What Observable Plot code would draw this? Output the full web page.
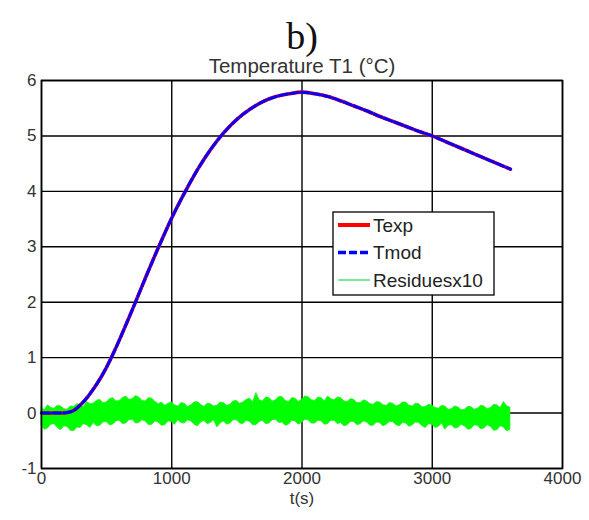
<!DOCTYPE html>
<html>
<head>
<meta charset="utf-8">
<script src="https://cdn.jsdelivr.net/npm/d3@7"></script>
<script src="https://cdn.jsdelivr.net/npm/@observablehq/plot@0.6"></script>
<style>
  html, body { margin: 0; padding: 0; background: #fff; }
  #chart { width: 589px; height: 520px; }
</style>
</head>
<body>
<div id="chart"></div>
<script>
// ---- data ----
const panelLabel = "b)";
const chartTitle = "Temperature T1 (°C)";
const xLabel = "t(s)";
const seriesNames = ["Texp", "Tmod", "Residuesx10"];
const xTicks = [0, 1000, 2000, 3000, 4000];
const yTicks = [-1, 0, 1, 2, 3, 4, 5, 6];

const time = [0, 100, 200, 250, 300, 350, 400, 450, 500, 550, 600, 700, 800, 900, 1000, 1100, 1200,
  1300, 1400, 1500, 1600, 1700, 1800, 1900, 2000, 2100, 2200, 2300, 2400, 2500, 2600, 2700, 2800,
  2900, 3000, 3100, 3200, 3300, 3400, 3500, 3600];
const texp = [0, 0, 0.01, 0.05, 0.15, 0.28, 0.44, 0.62, 0.83, 1.07, 1.33, 1.88, 2.45, 3.0, 3.52, 3.98,
  4.4, 4.76, 5.06, 5.3, 5.48, 5.62, 5.71, 5.76, 5.79, 5.76, 5.71, 5.63, 5.54, 5.45, 5.35, 5.26,
  5.17, 5.08, 5.0, 4.9, 4.8, 4.7, 4.6, 4.5, 4.4];
const tmod = [0, 0, 0.01, 0.05, 0.15, 0.28, 0.44, 0.62, 0.83, 1.07, 1.33, 1.88, 2.45, 3.0, 3.52, 3.98,
  4.4, 4.76, 5.06, 5.3, 5.48, 5.62, 5.71, 5.76, 5.79, 5.76, 5.71, 5.63, 5.54, 5.45, 5.35, 5.26,
  5.17, 5.08, 5.0, 4.9, 4.8, 4.7, 4.6, 4.5, 4.4];

const resTime = [0, 25, 50, 75, 100, 125, 150, 175, 200, 225, 250, 275, 300, 325, 350, 375, 400,
  425, 450, 475, 500, 525, 550, 575, 600, 625, 650, 675, 700, 725, 750, 775, 800, 825, 850, 875,
  900, 925, 950, 975, 1000, 1025, 1050, 1075, 1100, 1125, 1150, 1175, 1200, 1225, 1250, 1275, 1300,
  1325, 1350, 1375, 1400, 1425, 1450, 1475, 1500, 1525, 1550, 1575, 1600, 1625, 1650, 1675, 1700,
  1725, 1750, 1775, 1800, 1825, 1850, 1875, 1900, 1925, 1950, 1975, 2000, 2025, 2050, 2075, 2100,
  2125, 2150, 2175, 2200, 2225, 2250, 2275, 2300, 2325, 2350, 2375, 2400, 2425, 2450, 2475, 2500,
  2525, 2550, 2575, 2600, 2625, 2650, 2675, 2700, 2725, 2750, 2775, 2800, 2825, 2850, 2875, 2900,
  2925, 2950, 2975, 3000, 3025, 3050, 3075, 3100, 3125, 3150, 3175, 3200, 3225, 3250, 3275, 3300,
  3325, 3350, 3375, 3400, 3425, 3450, 3475, 3500, 3525, 3550, 3575, 3600];
const resHi = [0.10, 0.05, 0.14, 0.09, 0.08, 0.13, 0.12, 0.07, 0.06, 0.12, 0.11, 0.16, 0.15, 0.11,
  0.20, 0.16, 0.17, 0.22, 0.24, 0.18, 0.19, 0.25, 0.27, 0.21, 0.22, 0.27, 0.30, 0.24, 0.25, 0.31,
  0.28, 0.22, 0.21, 0.27, 0.26, 0.20, 0.16, 0.19, 0.13, 0.17, 0.19, 0.14, 0.12, 0.18, 0.17, 0.11,
  0.14, 0.19, 0.20, 0.15, 0.11, 0.17, 0.16, 0.12, 0.13, 0.19, 0.18, 0.13, 0.15, 0.21, 0.22, 0.17,
  0.19, 0.24, 0.26, 0.20, 0.36, 0.23, 0.21, 0.28, 0.27, 0.21, 0.23, 0.29, 0.29, 0.22, 0.20, 0.27,
  0.26, 0.20, 0.24, 0.30, 0.29, 0.23, 0.22, 0.28, 0.27, 0.21, 0.30, 0.25, 0.23, 0.28, 0.27, 0.21,
  0.20, 0.25, 0.24, 0.18, 0.18, 0.23, 0.21, 0.16, 0.15, 0.20, 0.19, 0.14, 0.13, 0.18, 0.17, 0.12,
  0.14, 0.19, 0.19, 0.13, 0.12, 0.17, 0.16, 0.10, 0.11, 0.15, 0.13, 0.09, 0.08, 0.13, 0.12, 0.06,
  0.07, 0.12, 0.10, 0.05, 0.06, 0.11, 0.11, 0.06, 0.08, 0.13, 0.12, 0.07, 0.09, 0.15, 0.14, 0.09,
  0.20, 0.12, 0.10];
const resLo = [-0.22, -0.30, -0.28, -0.21, -0.20, -0.27, -0.31, -0.24, -0.25, -0.32, -0.33, -0.26,
  -0.27, -0.20, -0.22, -0.27, -0.18, -0.24, -0.23, -0.17, -0.16, -0.22, -0.21, -0.15, -0.14, -0.20,
  -0.19, -0.13, -0.12, -0.19, -0.18, -0.13, -0.15, -0.22, -0.21, -0.15, -0.17, -0.23, -0.22, -0.15,
  -0.16, -0.21, -0.13, -0.18, -0.19, -0.13, -0.15, -0.21, -0.24, -0.17, -0.14, -0.20, -0.18, -0.13,
  -0.26, -0.19, -0.15, -0.21, -0.19, -0.13, -0.13, -0.19, -0.20, -0.14, -0.16, -0.22, -0.22, -0.16,
  -0.14, -0.20, -0.19, -0.13, -0.12, -0.18, -0.17, -0.23, -0.21, -0.14, -0.15, -0.21, -0.18, -0.12,
  -0.13, -0.19, -0.19, -0.14, -0.15, -0.21, -0.20, -0.14, -0.14, -0.20, -0.18, -0.24, -0.22, -0.16,
  -0.16, -0.22, -0.20, -0.15, -0.17, -0.23, -0.23, -0.17, -0.18, -0.24, -0.21, -0.16, -0.16, -0.22,
  -0.24, -0.18, -0.19, -0.25, -0.22, -0.17, -0.18, -0.24, -0.27, -0.20, -0.21, -0.27, -0.25, -0.19,
  -0.30, -0.23, -0.22, -0.28, -0.27, -0.21, -0.24, -0.30, -0.29, -0.22, -0.23, -0.29, -0.28, -0.22,
  -0.25, -0.32, -0.31, -0.24, -0.26, -0.33, -0.30];

// ---- tables built from the arrays ----
const tempRows = time.map((t, i) => ({t, texp: texp[i], tmod: tmod[i]}));
const resRows = resTime.map((t, i) => ({t, lo: resLo[i], hi: resHi[i]}));

const font = "'Liberation Sans', Arial, Helvetica, sans-serif";
const textColor = "#333";

const svg = Plot.plot({
  width: 589,
  height: 520,
  marginTop: 80,
  marginBottom: 52,
  marginLeft: 41,
  marginRight: 27,
  style: {fontFamily: font, fontSize: "17px", color: textColor, background: "#fff", overflow: "visible"},
  x: {domain: [0, 4000], label: null},
  y: {domain: [-1, 6], label: null},
  marks: [
    Plot.gridX(xTicks, {stroke: "#000", strokeOpacity: 1, strokeWidth: 1.4}),
    Plot.gridY(yTicks, {stroke: "#000", strokeOpacity: 1, strokeWidth: 1.4}),
    Plot.areaY(resRows, {x: "t", y1: "lo", y2: "hi", fill: "#00ff00", stroke: "#22f022", strokeWidth: 0.8}),
    Plot.line(tempRows, {x: "t", y: "texp", stroke: "#ff0000", strokeWidth: 3.6, curve: "catmull-rom"}),
    Plot.line(tempRows, {x: "t", y: "tmod", stroke: "#0000ff", strokeWidth: 3, strokeDasharray: "8,3", curve: "catmull-rom"}),
    Plot.frame({stroke: "#000", strokeWidth: 1.6}),
    Plot.axisY(yTicks, {tickSize: 0, tickPadding: 5, tickFormat: d => String(d), fontSize: 17, fill: textColor, label: null}),
    Plot.axisX(xTicks, {tickSize: 0, tickPadding: 3, tickFormat: d => String(d), fontSize: 17, fill: textColor, label: null}),
    Plot.text([xLabel], {frameAnchor: "bottom", dy: 30, lineAnchor: "middle", fontSize: 17, fill: textColor}),
    Plot.text([chartTitle], {frameAnchor: "top", dy: -14, lineAnchor: "middle", fontSize: 20.5, fill: textColor}),
    Plot.text([panelLabel], {frameAnchor: "top", dy: -44, lineAnchor: "middle", fontSize: 38,
      fontFamily: "'Liberation Serif', 'Times New Roman', serif", fill: "#111"})
  ]
});

// ---- legend (layout only) ----
const lg = d3.select(svg).append("g").attr("font-family", font).attr("font-size", 19)
  .attr("fill", "#222").attr("text-anchor", "start");
lg.append("rect").attr("x", 333).attr("y", 212).attr("width", 161).attr("height", 83)
  .attr("fill", "#fff").attr("stroke", "#000").attr("stroke-width", 1.3);
const legendStyles = [
  {stroke: "#ff0000", width: 4, dash: null},
  {stroke: "#0000ff", width: 3.5, dash: "8,3"},
  {stroke: "#33dd66", width: 1.3, dash: null}
];
seriesNames.forEach((name, i) => {
  const yy = 225 + i * 27.5;
  const st = legendStyles[i];
  const ln = lg.append("line").attr("x1", 338).attr("x2", 370).attr("y1", yy).attr("y2", yy)
    .attr("stroke", st.stroke).attr("stroke-width", st.width);
  if (st.dash) ln.attr("stroke-dasharray", st.dash);
  lg.append("text").attr("x", 373).attr("y", yy).attr("dy", "0.35em").attr("text-anchor", "start").text(name);
});

document.getElementById("chart").appendChild(svg);
</script>
</body>
</html>
